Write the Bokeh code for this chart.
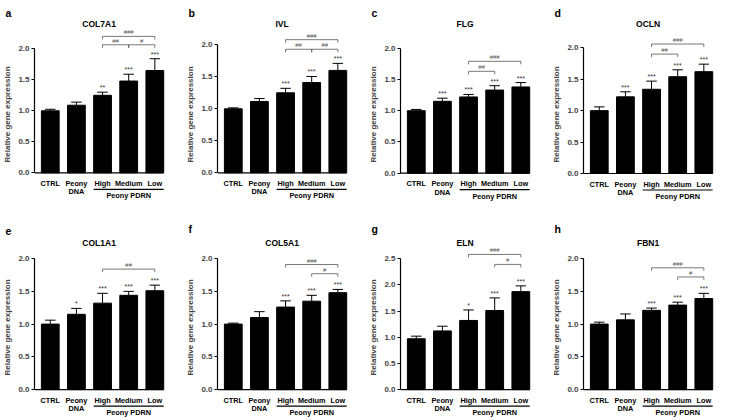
from bokeh.plotting import figure
from bokeh.layouts import gridplot
from bokeh.models import Range1d, FixedTicker, Title, NumeralTickFormatter
from bokeh.core.properties import value
from bokeh.embed import file_html
from bokeh.resources import INLINE

FONT = "Liberation Sans"

# ---------------- data ----------------
labels_line1 = ["CTRL", "Peony", "High", "Medium", "Low"]
labels_line2 = ["", "DNA", "", "", ""]
group_label = "Peony PDRN"
group_span = (2, 4)

letters = ["a", "b", "c", "d", "e", "f", "g", "h"]
genes = ["COL7A1", "IVL", "FLG", "OCLN", "COL1A1", "COL5A1", "ELN", "FBN1"]

col7a1_mean = [1.00, 1.09, 1.25, 1.48, 1.65]
col7a1_err = [0.025, 0.05, 0.05, 0.11, 0.19]
col7a1_stars = ["", "", "**", "***", "***"]
col7a1_brackets = [(2, 4, 2.20, "###"), (2, 3, 2.065, "##"), (3, 4, 2.065, "#")]

ivl_mean = [1.00, 1.115, 1.25, 1.41, 1.60]
ivl_err = [0.015, 0.045, 0.07, 0.095, 0.11]
ivl_stars = ["", "", "***", "***", "***"]
ivl_brackets = [(2, 4, 2.08, "###"), (2, 3, 1.93, "##"), (3, 4, 1.93, "##")]

flg_mean = [1.00, 1.15, 1.22, 1.33, 1.38]
flg_err = [0.02, 0.05, 0.04, 0.07, 0.07]
flg_stars = ["", "***", "***", "***", "***"]
flg_brackets = [(2, 4, 1.79, "###"), (2, 3, 1.63, "##")]

ocln_mean = [1.00, 1.22, 1.34, 1.54, 1.62]
ocln_err = [0.06, 0.08, 0.13, 0.11, 0.12]
ocln_stars = ["", "***", "***", "***", "***"]
ocln_brackets = [(2, 4, 2.06, "###"), (2, 3, 1.90, "##")]

col1a1_mean = [1.00, 1.15, 1.32, 1.44, 1.51]
col1a1_err = [0.06, 0.09, 0.15, 0.06, 0.085]
col1a1_stars = ["", "*", "***", "***", "***"]
col1a1_brackets = [(2, 4, 1.84, "##")]

col5a1_mean = [1.00, 1.10, 1.26, 1.35, 1.48]
col5a1_err = [0.015, 0.09, 0.095, 0.09, 0.05]
col5a1_stars = ["", "", "***", "***", "***"]
col5a1_brackets = [(2, 4, 1.91, "###"), (3, 4, 1.77, "#")]

eln_mean = [0.97, 1.12, 1.32, 1.51, 1.87]
eln_err = [0.05, 0.09, 0.20, 0.24, 0.11]
eln_stars = ["", "", "*", "***", "***"]
eln_brackets = [(2, 4, 2.58, "###"), (3, 4, 2.39, "#")]

fbn1_mean = [1.00, 1.065, 1.21, 1.29, 1.39]
fbn1_err = [0.03, 0.09, 0.035, 0.045, 0.08]
fbn1_stars = ["", "", "***", "***", "***"]
fbn1_brackets = [(2, 4, 1.86, "###"), (3, 4, 1.72, "#")]

y_max = [2.0, 2.0, 2.0, 2.0, 2.0, 2.0, 2.5, 2.0]

panels = [
    (col7a1_mean, col7a1_err, col7a1_stars, col7a1_brackets),
    (ivl_mean, ivl_err, ivl_stars, ivl_brackets),
    (flg_mean, flg_err, flg_stars, flg_brackets),
    (ocln_mean, ocln_err, ocln_stars, ocln_brackets),
    (col1a1_mean, col1a1_err, col1a1_stars, col1a1_brackets),
    (col5a1_mean, col5a1_err, col5a1_stars, col5a1_brackets),
    (eln_mean, eln_err, eln_stars, eln_brackets),
    (fbn1_mean, fbn1_err, fbn1_stars, fbn1_brackets),
]

# ---------------- layout (pixels, relative to each panel's top-left) ----------------
W, H = 183, 210
LEFT, RIGHT = 32, 5
PX_X = 26.5
FIRST_PX = 48
BAR_W = 0.68
axis_top_px = [48.3, 44.3, 47.7, 47.3, 47.7, 47.7, 47.7, 47.7]
axis_zero_px = [172.3, 172.3, 172.7, 173.0, 179.0, 179.0, 179.0, 179.0]
title_px = [23, 23, 23, 23, 32, 32, 32, 32]
frame_top_px = [18, 18, 18, 18, 23.5, 23.5, 23.5, 23.5]
XLAB = "7.3px"


def make_panel(k):
    mean, err, stars, brackets = panels[k]
    ymax = y_max[k]
    top_px, zero_px, ft = axis_top_px[k], axis_zero_px[k], frame_top_px[k]
    ppu = (zero_px - top_px) / ymax
    ystart = -(H - zero_px) / ppu
    yend = (zero_px - ft) / ppu
    xstart = -(FIRST_PX - LEFT) / PX_X
    xend = xstart + (W - LEFT - RIGHT) / PX_X
    n = len(mean)
    xs = list(range(n))

    p = figure(width=W, height=H, x_range=Range1d(xstart, xend),
               y_range=Range1d(ystart, yend), output_backend="svg",
               toolbar_location=None, x_axis_location=None,
               min_border_left=LEFT, min_border_right=RIGHT,
               min_border_top=int(round(ft)), min_border_bottom=0,
               outline_line_color=None, background_fill_color=None,
               border_fill_color="white")
    p.grid.visible = False

    p.add_layout(Title(text=letters[k], align="left", offset=-(LEFT - 3),
                       standoff=0, vertical_align="bottom",
                       text_font=FONT, text_font_size="10.5px",
                       text_font_style="bold", text_color="black"), "above")

    ax = p.yaxis[0]
    ax.bounds = (0, ymax)
    ticks = [i * 0.5 for i in range(int(round(ymax / 0.5)) + 1)]
    ax.ticker = FixedTicker(ticks=ticks)
    ax.formatter = NumeralTickFormatter(format="0.0")
    ax.major_tick_out = 3
    ax.major_tick_in = 0
    ax.minor_tick_out = 0
    ax.minor_tick_in = 0
    ax.axis_line_width = 1.2
    ax.major_tick_line_width = 1.2
    ax.major_label_text_font = FONT
    ax.major_label_text_font_size = "8px"
    ax.major_label_text_font_style = "bold"
    ax.major_label_standoff = 2
    ax.axis_label = "Relative gene expression"
    ax.axis_label_text_font = FONT
    ax.axis_label_text_font_size = "8px"
    ax.axis_label_text_font_style = "bold"
    ax.axis_label_standoff = 3

    # x axis line
    p.segment(x0=[xstart], y0=[0], x1=[n - 1 + BAR_W / 2], y1=[0],
              line_color="black", line_width=1.2)

    # bars + error bars
    p.vbar(x=xs, top=mean, width=BAR_W, bottom=0, fill_color="black",
           line_color="black")
    tops = [m + e for m, e in zip(mean, err)]
    p.segment(x0=xs, y0=mean, x1=xs, y1=tops, line_color="black", line_width=1)
    p.segment(x0=[x - 0.2 for x in xs], y0=tops, x1=[x + 0.2 for x in xs],
              y1=tops, line_color="black", line_width=1)

    # significance stars
    p.text(x=xs, y=[t + 1.0 / ppu for t in tops], text=stars,
           text_font=value(FONT), text_font_size="7px", text_color="#333333",
           text_align="center", text_baseline="bottom")

    # brackets
    tick = 3.0 / ppu
    for (i, j, yb, lab) in brackets:
        p.segment(x0=[i, i, j], y0=[yb, yb, yb], x1=[j, i, j],
                  y1=[yb, yb - tick, yb - tick], line_color="#555555",
                  line_width=0.8)
        p.text(x=[(i + j) / 2], y=[yb + 1.0 / ppu], text=[lab],
               text_font=value(FONT), text_font_size="6px",
               text_color="#555555", text_align="center",
               text_baseline="bottom")

    # gene title
    p.text(x=[(xstart + n - 1 + BAR_W / 2) / 2],
           y=[(zero_px - title_px[k]) / ppu], text=[genes[k]],
           text_font=value(FONT), text_font_size="8.5px",
           text_font_style="bold", text_align="center",
           text_baseline="middle", text_color="black")

    # category labels
    p.text(x=xs, y=[-10.5 / ppu] * n, text=labels_line1,
           text_font=value(FONT), text_font_size=XLAB,
           text_font_style="bold", text_align="center",
           text_baseline="middle", text_color="black")
    p.text(x=xs, y=[-19.0 / ppu] * n, text=labels_line2,
           text_font=value(FONT), text_font_size=XLAB,
           text_font_style="bold", text_align="center",
           text_baseline="middle", text_color="black")
    g0, g1 = group_span
    p.segment(x0=[g0 - BAR_W / 2], y0=[-16.5 / ppu], x1=[g1 + BAR_W / 2],
              y1=[-16.5 / ppu], line_color="black", line_width=1.2)
    p.text(x=[(g0 + g1) / 2], y=[-23.0 / ppu], text=[group_label],
           text_font=value(FONT), text_font_size=XLAB,
           text_font_style="bold", text_align="center",
           text_baseline="middle", text_color="black")
    return p


figs = [make_panel(k) for k in range(8)]
grid = gridplot(figs, ncols=4, toolbar_location=None)

open("out.html", "w").write(file_html(grid, INLINE))
